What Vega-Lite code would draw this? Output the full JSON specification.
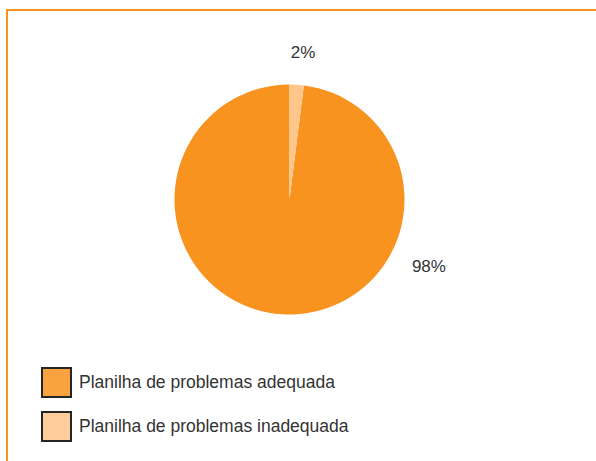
{
  "$schema": "https://vega.github.io/schema/vega-lite/v6.json",
  "width": 596,
  "height": 461,
  "autosize": {"type": "fit", "contains": "padding"},
  "padding": {"left": 7, "top": 10, "right": 0, "bottom": 0},
  "background": "white",
  "data": {
    "values": [
      {"categoria": "Planilha de problemas adequada", "fracao": 0.98},
      {"categoria": "Planilha de problemas inadequada", "fracao": 0.02}
    ]
  },
  "encoding": {
    "x": {"datum": 0.4796, "type": "quantitative", "scale": {"domain": [0, 1]}, "axis": null},
    "y": {"datum": 0.5798, "type": "quantitative", "scale": {"domain": [0, 1]}, "axis": null}
  },
  "layer": [
    {
      "mark": {"type": "arc", "outerRadius": 115},
      "encoding": {
        "theta": {"field": "fracao", "type": "quantitative", "stack": true},
        "order": {"field": "fracao", "sort": "ascending"},
        "color": {
          "field": "categoria",
          "type": "nominal",
          "scale": {
            "domain": ["Planilha de problemas adequada", "Planilha de problemas inadequada"],
            "range": ["#F7931E", "#FDC68A"]
          },
          "legend": {
            "orient": "none",
            "legendX": 34,
            "legendY": 357,
            "title": null,
            "padding": 0,
            "symbolType": "square",
            "symbolSize": 841,
            "symbolStrokeColor": "#000000",
            "symbolStrokeWidth": 2,
            "symbolOpacity": 0.85,
            "labelFont": "Liberation Sans",
            "labelFontSize": 17.5,
            "labelColor": "#333333",
            "labelOffset": 7,
            "labelLimit": 400,
            "rowPadding": 7
          }
        }
      }
    },
    {
      "mark": {"type": "text", "font": "Liberation Sans", "fontSize": 17, "color": "#333333"},
      "encoding": {
        "theta": {"field": "fracao", "type": "quantitative", "stack": true, "scale": {"range": [0.0539, 3.915]}},
        "order": {"field": "fracao", "sort": "ascending"},
        "radius": {"field": "fracao", "type": "quantitative", "scale": {"type": "linear", "zero": false, "domain": [0.02, 0.98], "range": [147, 155]}},
        "text": {"field": "fracao", "type": "quantitative", "format": ".0%"}
      }
    }
  ],
  "resolve": {"scale": {"theta": "independent"}},
  "config": {
    "view": {"stroke": "#F7931E", "strokeWidth": 2, "strokeDash": [589, 1040, 460]}
  }
}
